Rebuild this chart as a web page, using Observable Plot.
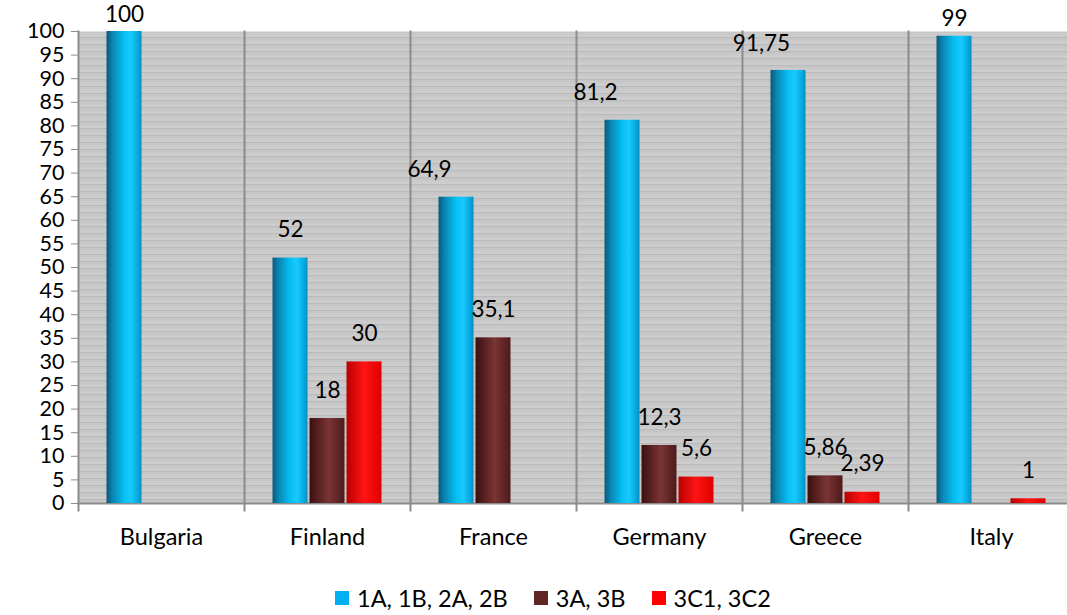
<!DOCTYPE html>
<html>
<head>
<meta charset="utf-8">
<script src="https://cdn.jsdelivr.net/npm/d3@7"></script>
<script src="https://cdn.jsdelivr.net/npm/@observablehq/plot@0.6"></script>
<style>
  body { margin: 0; background: #fff; overflow: hidden; font-family: Lato, "Open Sans", sans-serif; }
  #wrap { position: relative; width: 1067px; height: 615px; overflow: hidden; }
  #legend { position: absolute; left: 335px; top: 585px; display: flex; align-items: center; font-size: 23.5px; line-height: 26px; color: #000; white-space: nowrap; }
  #legend .item { display: flex; align-items: center; margin-right: 26px; }
  #legend .sw { width: 14px; height: 14px; margin-right: 8px; }
</style>
</head>
<body>
<div id="wrap"><div id="chart"></div><div id="legend"></div></div>
<script>
// Countries along the x axis
const countries = ["Bulgaria", "Finland", "France", "Germany", "Greece", "Italy"];
// Series names
const seriesNames = ["1A, 1B, 2A, 2B", "3A, 3B", "3C1, 3C2"];
// Values per series (null = no bar)
const values1A2B = [100, 52, 64.9, 81.2, 91.75, 99];
const values3A3B = [null, 18, 35.1, 12.3, 5.86, null];
const values3C = [null, 30, null, 5.6, 2.39, 1];
// Y axis ticks
const yTicks = d3.range(0, 101, 5);

const seriesValues = [values1A2B, values3A3B, values3C];
const rows = [];
countries.forEach((c, i) => {
  seriesNames.forEach((s, j) => {
    const v = seriesValues[j][i];
    if (v != null) rows.push({country: c, series: s, value: v});
  });
});

const fmt = v => String(v).replace(".", ",");
// value labels nudged left of their bar, and labels squeezed under the top edge
const leftShifted = d => d.series === seriesNames[0] && ["France", "Germany", "Greece"].includes(d.country);
const atTop = d => d.value >= 95;

const gridColor = "#8c8c8c";
const labelOpts = {fx: "country", x: "series", y: "value", text: d => fmt(d.value), fontSize: 22.5, fill: "#000"};

const plot = Plot.plot({
  width: 1076,
  height: 560,
  marginLeft: 75,
  marginRight: 0,
  marginTop: 31,
  marginBottom: 57,
  style: {fontFamily: "Lato, 'Open Sans', sans-serif", fontSize: "22px", maxWidth: "none", overflow: "visible", background: "transparent", color: "#000"},
  fx: {domain: countries, padding: 0, label: null},
  x: {domain: seriesNames, paddingInner: 0.02, paddingOuter: 0.75, axis: null},
  y: {domain: [0, 100], axis: null},
  color: {domain: seriesNames, range: ["url(#gBlue)", "url(#gBrown)", "url(#gRed)"]},
  marks: [
    Plot.frame({fill: "url(#stripes)", stroke: null}),
    Plot.frame({anchor: "bottom", stroke: gridColor, strokeWidth: 2}),
    Plot.frame({anchor: "left", stroke: gridColor, strokeWidth: 2, insetBottom: -7}),
    Plot.barY(rows, {fx: "country", x: "series", y: "value", fill: "series", insetLeft: 0.5, insetRight: 0.5}),
    Plot.text(rows.filter(d => !leftShifted(d) && !atTop(d)), {...labelOpts, dy: -28}),
    Plot.text(rows.filter(leftShifted), {...labelOpts, dy: -27, dx: -27}),
    Plot.text(rows.filter(atTop), {...labelOpts, dy: -17}),
    Plot.axisY({ticks: yTicks, tickSize: 7, stroke: gridColor, tickPadding: 7, fontSize: 21.5, label: null, fill: "#000"}),
    Plot.axisFx({anchor: "bottom", tickSize: 0, tickPadding: 25, fontSize: 23.5, label: null, fill: "#000"})
  ]
});

d3.select(plot).insert("defs", ":first-child").html(`
  <pattern id="stripes" width="8" height="7" patternUnits="userSpaceOnUse">
    <rect width="8" height="7" fill="#bababa"/>
    <rect y="0" width="8" height="1" fill="#e0e0e0"/>
    <rect y="3" width="8" height="1" fill="#d2d2d2"/>
    <rect y="5" width="8" height="1" fill="#dadada"/>
  </pattern>
  <linearGradient id="gBlue" x1="0" x2="1" y1="0" y2="0">
    <stop offset="0" stop-color="#0b5a7a"/>
    <stop offset="0.18" stop-color="#0a86b4"/>
    <stop offset="0.5" stop-color="#05bff2"/>
    <stop offset="0.7" stop-color="#19c9ff"/>
    <stop offset="0.9" stop-color="#04a9de"/>
    <stop offset="1" stop-color="#0a8cbd"/>
  </linearGradient>
  <linearGradient id="gBrown" x1="0" x2="1" y1="0" y2="0">
    <stop offset="0" stop-color="#3a1010"/>
    <stop offset="0.55" stop-color="#7a3434"/>
    <stop offset="1" stop-color="#4e1a1a"/>
  </linearGradient>
  <linearGradient id="gRed" x1="0" x2="1" y1="0" y2="0">
    <stop offset="0" stop-color="#b80000"/>
    <stop offset="0.5" stop-color="#ff1414"/>
    <stop offset="1" stop-color="#e00000"/>
  </linearGradient>
`);

document.getElementById("chart").appendChild(plot);

const swatchColors = ["#00b0f0", "#632523", "#ff0000"];
const legend = d3.select("#legend");
seriesNames.forEach((s, i) => {
  const item = legend.append("div").attr("class", "item");
  item.append("div").attr("class", "sw").style("background", swatchColors[i]);
  item.append("span").text(s);
});
</script>
</body>
</html>
